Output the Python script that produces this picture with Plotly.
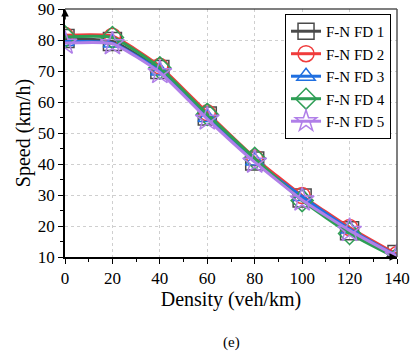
import plotly.graph_objects as go

density = [0, 20, 40, 60, 80, 100, 120, 140]
fd1 = [80.5, 79.5, 70.5, 55.5, 41.0, 29.0, 18.5, 10.8]
fd2 = [81.5, 81.2, 71.5, 56.5, 42.0, 29.8, 19.5, 10.8]
fd3 = [79.5, 79.0, 70.0, 55.0, 41.0, 29.5, 19.0, 10.3]
fd4 = [81.0, 80.8, 71.0, 56.0, 41.8, 28.2, 17.6, 9.6]
fd5 = [79.0, 78.8, 69.5, 54.5, 40.6, 28.4, 18.6, 10.2]
names = ["F-N FD 1", "F-N FD 2", "F-N FD 3", "F-N FD 4", "F-N FD 5"]
series = [fd1, fd2, fd3, fd4, fd5]
colors = ["#4a4a4a", "#f03c3c", "#1f6fe0", "#2e9e55", "#b07fe8"]
symbols = ["square-open", "circle-open", "triangle-up-open", "diamond-open", "star-open"]
msizes = [18, 16, 16, 17, 18]

FONT = "Liberation Serif"
fig = go.Figure()
for nm, ys, c, s, ms in zip(names, series, colors, symbols, msizes):
    fig.add_trace(go.Scatter(
        x=density, y=ys, name=nm, mode="lines+markers",
        line=dict(color=c, width=3, shape="spline", smoothing=0.5),
        marker=dict(symbol=s, size=ms, color=c, line=dict(width=1.5)),
    ))

axis_common = dict(
    showline=True, linecolor="black", linewidth=1.5, mirror=False,
    ticks="outside", ticklen=5, tickwidth=1.2, tickcolor="black",
    showgrid=True, gridcolor="#cfcfcf", griddash="dot", gridwidth=1,
    tickfont=dict(family=FONT, size=17, color="black"),
    ticklabeloverflow="allow",
    zeroline=False,
    minor=dict(ticks="outside", ticklen=3, tickwidth=1, tickcolor="black", showgrid=False),
)
fig.update_xaxes(range=[0, 140], tick0=0, dtick=20, minor_dtick=10,
                 title=dict(text="Density (veh/km)", font=dict(family=FONT, size=20, color="black"), standoff=2),
                 **axis_common)
fig.update_yaxes(range=[10, 90], tick0=10, dtick=10, minor_dtick=5,
                 title=dict(text="Speed (km/h)", font=dict(family=FONT, size=20, color="black"), standoff=2),
                 **axis_common)

# frame top and right
fig.add_shape(type="line", xref="paper", yref="paper", x0=0, x1=1, y0=1, y1=1,
              line=dict(color="black", width=1.2))
fig.add_shape(type="line", xref="paper", yref="paper", x0=1, x1=1, y0=0, y1=1,
              line=dict(color="#555555", width=1.5))

# axis arrows
fig.add_annotation(x=0, y=90, xref="x", yref="y", ax=0, ay=12, showarrow=True,
                   arrowhead=2, arrowsize=1, arrowwidth=1.5, arrowcolor="black", text="")
fig.add_annotation(x=140, y=10, xref="x", yref="y", ax=-12, ay=0, showarrow=True,
                   arrowhead=2, arrowsize=1, arrowwidth=1.5, arrowcolor="black", text="")

fig.add_annotation(text="(e)", xref="paper", yref="paper", x=0.5, y=-0.345,
                   xanchor="center", yanchor="middle", showarrow=False,
                   font=dict(family=FONT, size=15, color="black"))

fig.update_layout(
    width=410, height=353,
    margin=dict(l=65, r=13, t=9, b=96, autoexpand=False),
    paper_bgcolor="white", plot_bgcolor="white",
    font=dict(family=FONT, color="black"),
    showlegend=True,
    legend=dict(x=0.982, y=0.98, xanchor="right", yanchor="top",
                bgcolor="white", bordercolor="black", borderwidth=1,
                font=dict(family=FONT, size=15, color="black"),
                tracegroupgap=0, itemwidth=30),
)

fig.write_html("out.html")
